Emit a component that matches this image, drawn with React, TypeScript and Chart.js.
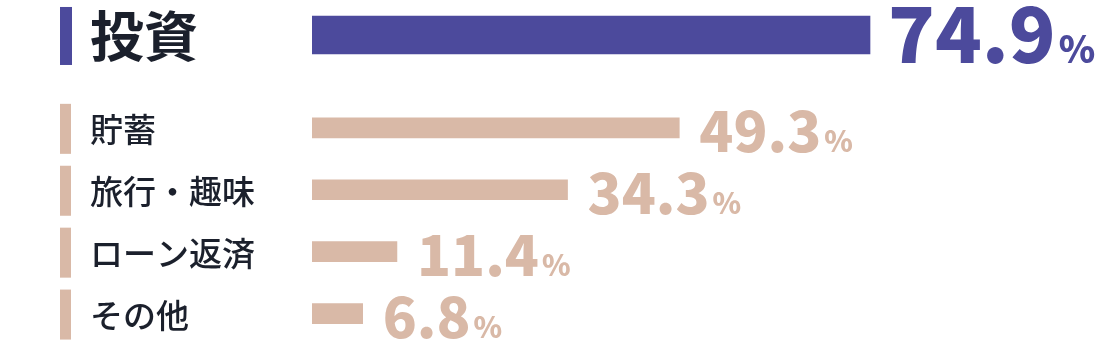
import React, { useEffect, useRef } from "react";
import { Chart, registerables } from "chart.js";

Chart.register(...registerables);

const categories = ["投資", "貯蓄", "旅行・趣味", "ローン返済", "その他"];
const values = [74.9, 49.3, 34.3, 11.4, 6.8];
const valueSuffix = "%";
const highlightIndex = 0;

const PURPLE = "#4c4a9c";
const BEIGE = "#d9b9a7";
const TEXT = "#1b202c";
const FONT = '"Noto Sans CJK JP", "Noto Sans", sans-serif';
const HIGHLIGHT_GAP = 0.5;

export default function App() {
  const ref = useRef<HTMLCanvasElement>(null);

  useEffect(() => {
    document.body.style.margin = "0";
    const canvas = ref.current;
    if (!canvas) return;

    const rowPos = categories.map((_, i) => (i <= highlightIndex ? i : i + HIGHLIGHT_GAP));

    const labelPlugin = {
      id: "rowLabels",
      afterDatasetsDraw(chart: any) {
        const { ctx, scales } = chart;
        const xs = scales.x;
        const ys = scales.y;
        categories.forEach((cat, i) => {
          const hi = i === highlightIndex;
          const cy = ys.getPixelForValue(rowPos[i]);
          const color = hi ? PURPLE : BEIGE;
          ctx.save();
          // marker
          ctx.fillStyle = color;
          const mh = hi ? 58 : 50;
          const mw = hi ? 12 : 11;
          ctx.fillRect(60, cy - mh / 2 + 1, mw, mh);
          // category label
          ctx.fillStyle = TEXT;
          ctx.font = hi ? `bold 54px ${FONT}` : `500 33px ${FONT}`;
          ctx.textBaseline = "middle";
          ctx.textAlign = "left";
          ctx.fillText(cat, 90, cy + 2);
          // value label
          const xEnd = xs.getPixelForValue(values[i]);
          ctx.fillStyle = color;
          ctx.textBaseline = "alphabetic";
          ctx.font = `900 ${hi ? 77 : 56}px ${FONT}`;
          (ctx as any).letterSpacing = "0px";
          const txt = values[i].toFixed(1);
          const tx = xEnd + (hi ? 18 : 20);
          const by = cy + (hi ? 28 : 24);
          ctx.fillText(txt, tx, by);
          const w = ctx.measureText(txt).width;
          ctx.font = `900 ${hi ? 37 : 29}px ${FONT}`;
          ctx.fillText(valueSuffix, tx + w + 3, by);
          ctx.restore();
        });
      },
    };

    const chart = new Chart(canvas, {
      type: "bar",
      data: {
        datasets: [
          {
            label: "highlight",
            data: categories
              .map((_, i) => ({ x: values[i], y: rowPos[i] }))
              .filter((_, i) => i === highlightIndex),
            backgroundColor: PURPLE,
            barThickness: 38,
            grouped: false,
          } as any,
          {
            label: "others",
            data: categories
              .map((_, i) => ({ x: values[i], y: rowPos[i] }))
              .filter((_, i) => i !== highlightIndex),
            backgroundColor: BEIGE,
            barThickness: 20,
            grouped: false,
          } as any,
        ],
      },
      options: {
        indexAxis: "y",
        animation: false,
        responsive: false,
        devicePixelRatio: 1,
        layout: { padding: { left: 312, right: 63, top: 0, bottom: 0 } },
        plugins: {
          legend: { display: false },
          tooltip: { enabled: false },
        },
        scales: {
          x: { type: "linear", min: 0, max: 100, display: false, offset: false },
          y: {
            type: "linear",
            min: -0.565,
            max: 4.927,
            reverse: true,
            display: false,
            offset: false,
          },
        },
      },
      plugins: [labelPlugin],
    });

    return () => chart.destroy();
  }, []);

  return (
    <div style={{ width: 1120, height: 340 }}>
      <canvas ref={ref} width={1120} height={340} />
    </div>
  );
}
